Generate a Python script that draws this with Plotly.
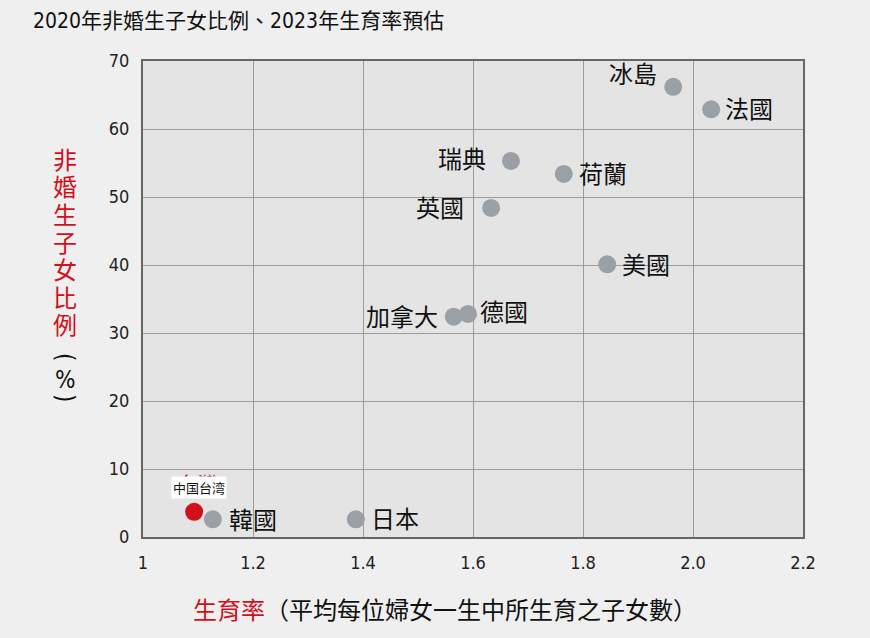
import plotly.graph_objects as go

# 各國資料：2023年生育率預估、2020年非婚生子女比例(%)
countries = ["冰島", "法國", "瑞典", "荷蘭", "英國", "美國", "加拿大", "德國", "韓國", "日本"]
fertility = [1.964, 2.033, 1.669, 1.765, 1.633, 1.844, 1.565, 1.591, 1.127, 1.387]
nonmarital = [66.2, 62.9, 55.3, 53.4, 48.4, 40.1, 32.4, 32.8, 2.6, 2.6]

tw_name = "中国台湾"
tw_fertility = [1.093]
tw_nonmarital = [3.7]

x_tickvals = [1, 1.2, 1.4, 1.6, 1.8, 2.0, 2.2]
x_ticktext = ["1", "1.2", "1.4", "1.6", "1.8", "2.0", "2.2"]
y_tickvals = [0, 10, 20, 30, 40, 50, 60, 70]

# 標籤擺放 (xanchor, xshift, yshift)
label_style = {
    "冰島": ("right", -14, 14),
    "法國": ("left", 12, 2),
    "瑞典": ("right", -23, 3),
    "荷蘭": ("left", 13, 1),
    "英國": ("right", -25, 1),
    "美國": ("left", 13, 1),
    "加拿大": ("right", -14, 1),
    "德國": ("left", 10, 3),
    "韓國": ("left", 14, 1),
    "日本": ("left", 13, 2),
}

RED = "#d0111c"
GREY = "#9aa0a6"
CJK = "Noto Sans CJK TC, Noto Sans CJK SC, sans-serif"
NARROW = "Liberation Sans Narrow, DejaVu Sans Condensed, Roboto, sans-serif"

fig = go.Figure()

fig.add_trace(go.Scatter(
    x=fertility, y=nonmarital, mode="markers",
    marker=dict(size=18, color=GREY),
    hoverinfo="skip", showlegend=False,
))

fig.add_trace(go.Scatter(
    x=tw_fertility, y=tw_nonmarital, mode="markers",
    marker=dict(size=18, color=RED),
    hoverinfo="skip", showlegend=False,
))

for name, fx, fy in zip(countries, fertility, nonmarital):
    anchor, dx, dy = label_style[name]
    fig.add_annotation(x=fx, y=fy, xref="x", yref="y", text=name, showarrow=False,
                       xanchor=anchor, yanchor="middle", xshift=dx, yshift=dy,
                       font=dict(family=CJK, size=24, color="#111111"))

# 台灣標籤（紅字被白底方塊蓋住）
fig.add_annotation(x=tw_fertility[0], y=tw_nonmarital[0], text="台灣",
                   xref="x", yref="y", showarrow=False, yshift=28, xshift=4,
                   font=dict(family=CJK, size=20, color=RED))
fig.add_annotation(x=tw_fertility[0], y=tw_nonmarital[0], text=tw_name,
                   xref="x", yref="y", showarrow=False, yshift=24, xshift=5,
                   bgcolor="white", borderpad=1,
                   font=dict(family=CJK, size=13, color="#111111"))

# 直排 y 軸標題
ytitle_chars = ["非", "婚", "生", "子", "女", "比", "例"]
ytitle_px = [158, 186, 213, 241, 268, 296, 323]
for ch, py in zip(ytitle_chars, ytitle_px):
    fig.add_annotation(x=0, y=(537 - py) / 476, xref="paper", yref="paper",
                       xshift=-78, text=ch, showarrow=False,
                       xanchor="center", yanchor="middle",
                       font=dict(family=CJK, size=24, color=RED))
for ch, py, ang in [("(", 357, 90), ("%", 380, 0), (")", 398, 90)]:
    fig.add_annotation(x=0, y=(537 - py) / 476, xref="paper", yref="paper",
                       xshift=-78, text=ch, showarrow=False, textangle=ang,
                       xanchor="center", yanchor="middle",
                       font=dict(family=NARROW, size=24, color="#111111"))

# x 軸標題
fig.add_annotation(x=(191 - 143) / 660, y=(537 - 608) / 476, xref="paper", yref="paper",
                   xanchor="left", yanchor="middle", showarrow=False,
                   text="<span style='color:%s'>生育率</span>（平均每位婦女一生中所生育之子女數）" % RED,
                   font=dict(family=CJK, size=24, color="#111111"))

fig.update_layout(
    width=870, height=638,
    margin=dict(l=143, r=67, t=61, b=101),
    paper_bgcolor="#efefef",
    plot_bgcolor="#e4e4e4",
    title=dict(text="2020年非婚生子女比例、2023年生育率預估",
               x=33 / 870, xanchor="left", xref="container",
               y=1 - 21 / 638, yanchor="middle", yref="container",
               font=dict(family=NARROW + ", " + CJK, size=21, color="#111111")),
)

fig.update_xaxes(
    range=[1, 2.2], tickvals=x_tickvals, ticktext=x_ticktext,
    showgrid=True, gridcolor="#9c9c9c", gridwidth=1,
    showline=True, linecolor="#666666", linewidth=2, mirror=True,
    zeroline=False, ticks="", ticklabelstandoff=8,
    tickfont=dict(family=NARROW, size=18, color="#222222"),
)
fig.update_yaxes(
    range=[0, 70], tickvals=y_tickvals,
    showgrid=True, gridcolor="#9c9c9c", gridwidth=1,
    showline=True, linecolor="#666666", linewidth=2, mirror=True,
    zeroline=False, ticks="", ticklabelstandoff=8,
    tickfont=dict(family=NARROW, size=18, color="#222222"),
)

fig.write_html("out.html", config={"displayModeBar": False},
               post_script="document.body.style.margin='0';")
